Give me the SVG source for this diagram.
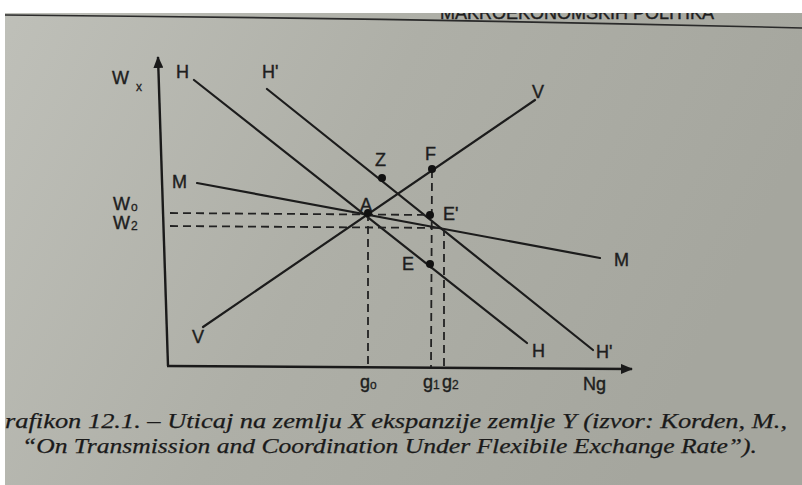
<svg xmlns="http://www.w3.org/2000/svg" width="802" height="485" viewBox="0 0 802 485">
  <defs>
    <linearGradient id="page" x1="0" y1="0" x2="1" y2="0.3">
      <stop offset="0" stop-color="#bfc0b9"/>
      <stop offset="0.5" stop-color="#aeafa7"/>
      <stop offset="1" stop-color="#a5a69e"/>
    </linearGradient>
    <marker id="arr" markerWidth="12" markerHeight="10" refX="11" refY="5" orient="auto" markerUnits="userSpaceOnUse">
      <path d="M0,0 L12,5 L0,10 Z" fill="#1a1a1a"/>
    </marker>
    <style>
      .ln { stroke: #1c1c1c; stroke-width: 2.2; fill: none; stroke-linecap: round; }
      .ax { stroke: #1a1a1a; stroke-width: 2.4; fill: none; }
      .dash { stroke: #222; stroke-width: 1.8; fill: none; stroke-dasharray: 8 5; }
      .pt { fill: #111; }
      .lab { font-family: "Liberation Sans", Arial, sans-serif; font-size: 18px; fill: #1e1e1e; stroke: #1e1e1e; stroke-width: 0.4; }
      .sub { font-family: "Liberation Sans", Arial, sans-serif; font-size: 12px; fill: #1e1e1e; stroke: #1e1e1e; stroke-width: 0.3; }
      .cap { font-family: "Liberation Serif", "Times New Roman", serif; font-style: italic; font-size: 21px; fill: #1a1a1a; stroke: #1a1a1a; stroke-width: 0.25; }
    </style>
  </defs>

  <rect x="0" y="0" width="802" height="485" fill="url(#page)"/>

  <!-- header -->
  <g id="header">
    <text x="440" y="19" class="lab" font-size="17" fill="#333">MAKROEKONOMSKIH POLITIKA</text>
    <rect x="0" y="0" width="802" height="13" fill="#ffffff"/>
    <rect x="0" y="0" width="5" height="485" fill="#ffffff"/>
    <path d="M5,15 Q400,18 802,28" stroke="#2a2a2a" stroke-width="1.6" fill="none"/>
  </g>

  <!-- axes and curves -->
  <g id="connectors">
    <line class="ax" x1="168" y1="366" x2="158" y2="57" marker-end="url(#arr)"/>
    <line class="ax" x1="167" y1="366" x2="632" y2="369" marker-end="url(#arr)"/>
    <line class="ln" x1="194" y1="80" x2="527" y2="343"/>
    <line class="ln" x1="267" y1="89" x2="593" y2="350"/>
    <line class="ln" x1="197" y1="183" x2="600" y2="258"/>
    <line class="ln" x1="203" y1="327" x2="535" y2="100"/>
    <line class="dash" x1="170" y1="213" x2="430" y2="215"/>
    <line class="dash" x1="170" y1="226" x2="443" y2="228"/>
    <line class="dash" x1="368" y1="213" x2="368" y2="366"/>
    <line class="dash" x1="432" y1="170" x2="431" y2="367"/>
    <line class="dash" x1="444" y1="228" x2="444" y2="367"/>
  </g>

  <!-- points -->
  <g id="A"><circle class="pt" cx="368" cy="213" r="4"/><text class="lab" x="360" y="211">A</text></g>
  <g id="Z"><circle class="pt" cx="382" cy="178" r="4"/><text class="lab" x="375" y="166">Z</text></g>
  <g id="F"><circle class="pt" cx="432" cy="169" r="4"/><text class="lab" x="425" y="160">F</text></g>
  <g id="Eprime"><circle class="pt" cx="430" cy="215" r="4"/><text class="lab" x="443" y="220">E'</text></g>
  <g id="E"><circle class="pt" cx="430" cy="264" r="4"/><text class="lab" x="402" y="270">E</text></g>

  <!-- curve labels -->
  <g id="labels">
    <text class="lab" x="112" y="84" font-size="20">W</text><text class="sub" x="136" y="91">x</text>
    <text class="lab" x="113" y="210" font-size="15">W</text><text class="sub" x="131" y="211" font-size="10">o</text>
    <text class="lab" x="113" y="229" font-size="15">W</text><text class="sub" x="131" y="230" font-size="10">2</text>
    <text class="lab" x="176" y="78">H</text>
    <text class="lab" x="262" y="78">H'</text>
    <text class="lab" x="172" y="188">M</text>
    <text class="lab" x="192" y="343">V</text>
    <text class="lab" x="532" y="98">V</text>
    <text class="lab" x="614" y="266">M</text>
    <text class="lab" x="532" y="357">H</text>
    <text class="lab" x="596" y="358">H'</text>
    <text class="lab" x="360" y="388" font-size="16">g</text><text class="sub" x="370" y="389">o</text>
    <text class="lab" x="423" y="388" font-size="16">g</text><text class="sub" x="433" y="389">1</text>
    <text class="lab" x="442" y="388" font-size="16">g</text><text class="sub" x="452" y="389">2</text>
    <text class="lab" x="583" y="390">Ng</text>
  </g>

  <!-- caption -->
  <g id="caption">
    <text class="cap" x="5" y="428" textLength="782" lengthAdjust="spacingAndGlyphs">rafikon 12.1. – Uticaj na zemlju X ekspanzije zemlje Y (izvor: Korden, M.,</text>
    <text class="cap" x="22" y="453" textLength="735" lengthAdjust="spacingAndGlyphs">“On Transmission and Coordination Under Flexibile Exchange Rate”).</text>
  </g>
</svg>
